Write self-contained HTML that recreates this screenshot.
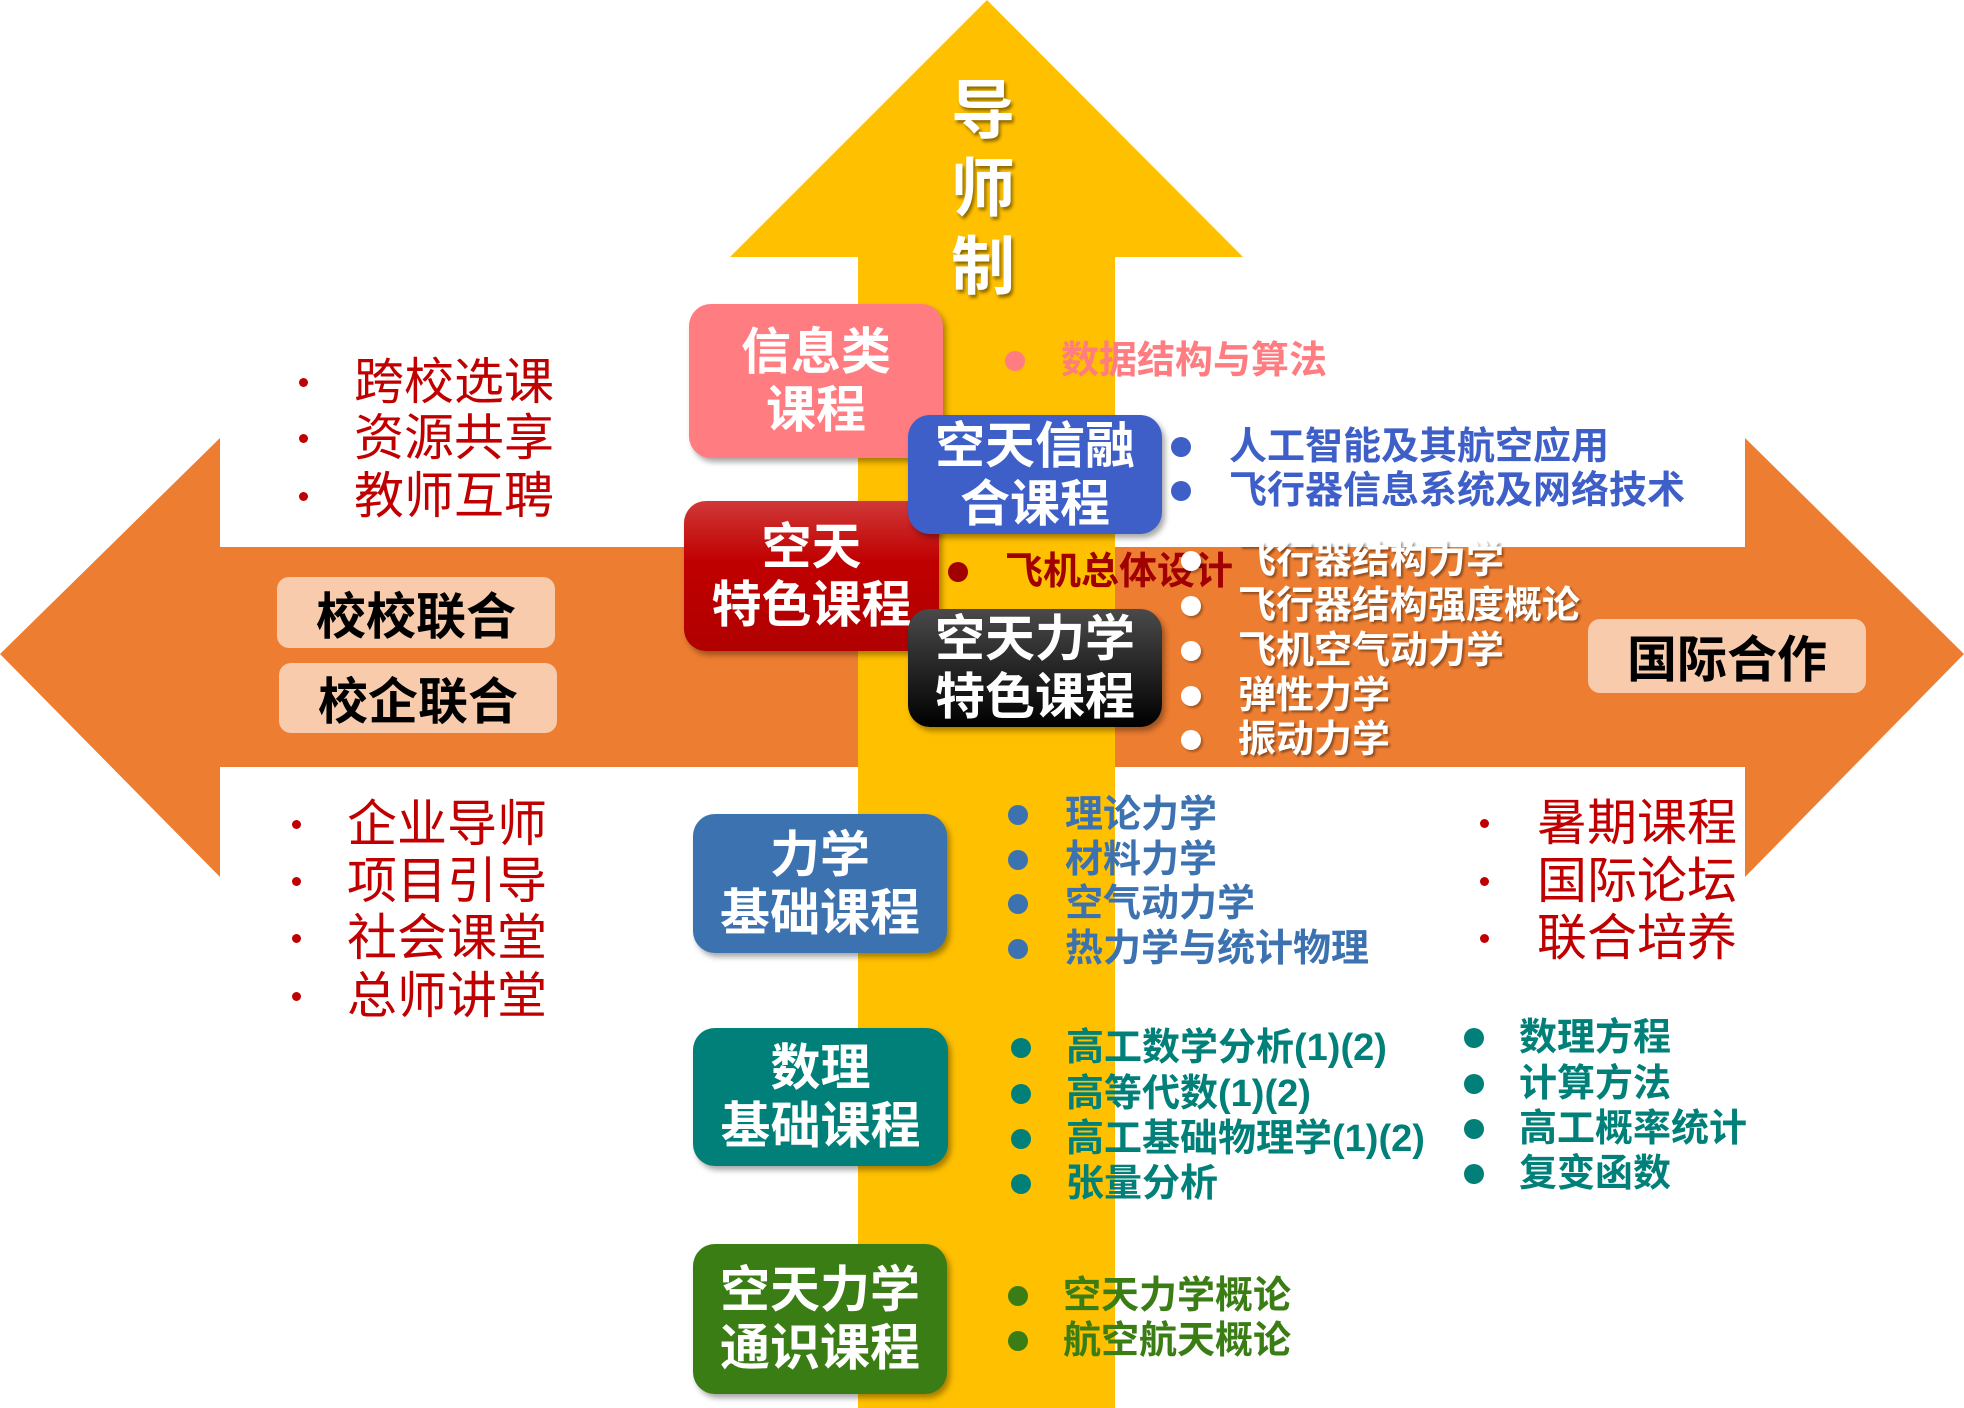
<!DOCTYPE html>
<html><head><meta charset="utf-8"><style>
html,body{margin:0;padding:0;}
body{width:1964px;height:1408px;position:relative;overflow:hidden;background:#fff;font-family:"Liberation Sans","Noto Sans CJK SC",sans-serif;}
.a{position:absolute;white-space:nowrap;}
.box{position:absolute;border-radius:22px;color:#fff;font-weight:bold;font-size:50px;line-height:58px;display:flex;align-items:center;justify-content:center;text-align:center;box-shadow:3px 4px 6px rgba(0,0,0,0.35);}
.pill{position:absolute;border-radius:12px;background:#F8CBAD;color:#000;font-weight:bold;font-size:50px;display:flex;align-items:center;justify-content:center;}
.t{position:absolute;white-space:nowrap;font-weight:bold;font-size:38px;line-height:46px;}
.d{position:absolute;border-radius:50%;width:20px;height:20px;}
.r{position:absolute;white-space:nowrap;font-size:50px;line-height:58px;color:#C00000;}
.rd{position:absolute;width:9px;height:9px;border-radius:50%;background:#C00000;}
</style></head><body>
<svg class="a" style="left:0;top:0" width="1964" height="1408">
<polygon points="0,654 220,438 220,547 1745,547 1745,438 1964,654 1745,877 1745,767 220,767 220,877" fill="#ED7D31"/>
<polygon points="987,0 1243,257 1115,257 1115,1408 858,1408 858,257 730,257" fill="#FFC000"/>
</svg>
<div class="a" style="left:948px;top:72px;width:70px;font-size:64px;line-height:78px;font-weight:bold;color:#fff;text-shadow:2px 3px 3px rgba(0,0,0,0.45);text-align:center;white-space:normal">导<br>师<br>制</div>

<div class="box" style="left:689px;top:304px;width:254px;height:154px;background:#FF7C80">信息类<br>课程</div>
<div class="box" style="left:684px;top:501px;width:255px;height:150px;background:linear-gradient(#D03838,#C00000 40%,#B00000)">空天<br>特色课程</div>
<div class="box" style="left:908px;top:415px;width:254px;height:119px;background:#3E5FC8">空天信融<br>合课程</div>
<div class="box" style="left:908px;top:609px;width:254px;height:118px;background:linear-gradient(#4a4a4a,#000)">空天力学<br>特色课程</div>
<div class="box" style="left:693px;top:814px;width:254px;height:139px;background:#3C72B0">力学<br>基础课程</div>
<div class="box" style="left:693px;top:1028px;width:255px;height:138px;background:#008078">数理<br>基础课程</div>
<div class="box" style="left:693px;top:1244px;width:254px;height:150px;background:#3A7D14">空天力学<br>通识课程</div>

<div class="pill" style="left:277px;top:577px;width:278px;height:71px">校校联合</div>
<div class="pill" style="left:279px;top:663px;width:278px;height:70px">校企联合</div>
<div class="pill" style="left:1588px;top:619px;width:278px;height:74px">国际合作</div>

<div class="rd" style="left:299px;top:378px"></div><div class="r" style="left:354px;top:353px">跨校选课</div>
<div class="rd" style="left:299px;top:434px"></div><div class="r" style="left:354px;top:409px">资源共享</div>
<div class="rd" style="left:299px;top:492px"></div><div class="r" style="left:354px;top:467px">教师互聘</div>
<div class="rd" style="left:292px;top:820px"></div><div class="r" style="left:347px;top:795px">企业导师</div>
<div class="rd" style="left:292px;top:877px"></div><div class="r" style="left:347px;top:852px">项目引导</div>
<div class="rd" style="left:292px;top:934px"></div><div class="r" style="left:347px;top:909px">社会课堂</div>
<div class="rd" style="left:292px;top:992px"></div><div class="r" style="left:347px;top:967px">总师讲堂</div>
<div class="rd" style="left:1480px;top:819px"></div><div class="r" style="left:1537px;top:794px">暑期课程</div>
<div class="rd" style="left:1480px;top:877px"></div><div class="r" style="left:1537px;top:852px">国际论坛</div>
<div class="rd" style="left:1480px;top:934px"></div><div class="r" style="left:1537px;top:909px">联合培养</div>

<div class="d" style="left:1005px;top:351px;background:#FF7C80"></div><div class="t" style="left:1061px;top:338px;color:#FF7C80">数据结构与算法</div>
<div class="d" style="left:1171px;top:437px;background:#3F5FC8"></div><div class="t" style="left:1229px;top:424px;color:#3F5FC8">人工智能及其航空应用</div>
<div class="d" style="left:1171px;top:481px;background:#3F5FC8"></div><div class="t" style="left:1229px;top:468px;color:#3F5FC8">飞行器信息系统及网络技术</div>
<div class="d" style="left:948px;top:562px;background:#A00000"></div><div class="t" style="left:1005px;top:549px;color:#A00000">飞机总体设计</div>

<div style="text-shadow:2px 2px 2px rgba(0,0,0,0.4)">
<div class="t" style="left:1238px;top:538px;color:#fff">飞行器结构力学</div>
<div class="t" style="left:1238px;top:583px;color:#fff">飞行器结构强度概论</div>
<div class="t" style="left:1238px;top:628px;color:#fff">飞机空气动力学</div>
<div class="t" style="left:1238px;top:673px;color:#fff">弹性力学</div>
<div class="t" style="left:1238px;top:717px;color:#fff">振动力学</div>
</div>
<div class="d" style="left:1181px;top:551px;background:#fff;box-shadow:2px 2px 2px rgba(0,0,0,0.3)"></div>
<div class="d" style="left:1181px;top:596px;background:#fff;box-shadow:2px 2px 2px rgba(0,0,0,0.3)"></div>
<div class="d" style="left:1181px;top:641px;background:#fff;box-shadow:2px 2px 2px rgba(0,0,0,0.3)"></div>
<div class="d" style="left:1181px;top:686px;background:#fff;box-shadow:2px 2px 2px rgba(0,0,0,0.3)"></div>
<div class="d" style="left:1181px;top:730px;background:#fff;box-shadow:2px 2px 2px rgba(0,0,0,0.3)"></div>

<div class="d" style="left:1008px;top:805px;background:#3C72B0"></div><div class="t" style="left:1065px;top:792px;color:#3C72B0">理论力学</div>
<div class="d" style="left:1008px;top:850px;background:#3C72B0"></div><div class="t" style="left:1065px;top:837px;color:#3C72B0">材料力学</div>
<div class="d" style="left:1008px;top:894px;background:#3C72B0"></div><div class="t" style="left:1065px;top:881px;color:#3C72B0">空气动力学</div>
<div class="d" style="left:1008px;top:939px;background:#3C72B0"></div><div class="t" style="left:1065px;top:926px;color:#3C72B0">热力学与统计物理</div>

<div class="d" style="left:1011px;top:1038px;background:#008078"></div><div class="t" style="left:1066px;top:1025px;color:#008078">高工数学分析(1)(2)</div>
<div class="d" style="left:1011px;top:1084px;background:#008078"></div><div class="t" style="left:1066px;top:1071px;color:#008078">高等代数(1)(2)</div>
<div class="d" style="left:1011px;top:1129px;background:#008078"></div><div class="t" style="left:1066px;top:1116px;color:#008078">高工基础物理学(1)(2)</div>
<div class="d" style="left:1011px;top:1174px;background:#008078"></div><div class="t" style="left:1066px;top:1161px;color:#008078">张量分析</div>
<div class="d" style="left:1464px;top:1028px;background:#008078"></div><div class="t" style="left:1519px;top:1015px;color:#008078">数理方程</div>
<div class="d" style="left:1464px;top:1074px;background:#008078"></div><div class="t" style="left:1519px;top:1061px;color:#008078">计算方法</div>
<div class="d" style="left:1464px;top:1119px;background:#008078"></div><div class="t" style="left:1519px;top:1106px;color:#008078">高工概率统计</div>
<div class="d" style="left:1464px;top:1164px;background:#008078"></div><div class="t" style="left:1519px;top:1151px;color:#008078">复变函数</div>

<div class="d" style="left:1008px;top:1286px;background:#3A7D14"></div><div class="t" style="left:1063px;top:1273px;color:#3A7D14">空天力学概论</div>
<div class="d" style="left:1008px;top:1331px;background:#3A7D14"></div><div class="t" style="left:1063px;top:1318px;color:#3A7D14">航空航天概论</div>
</body></html>
